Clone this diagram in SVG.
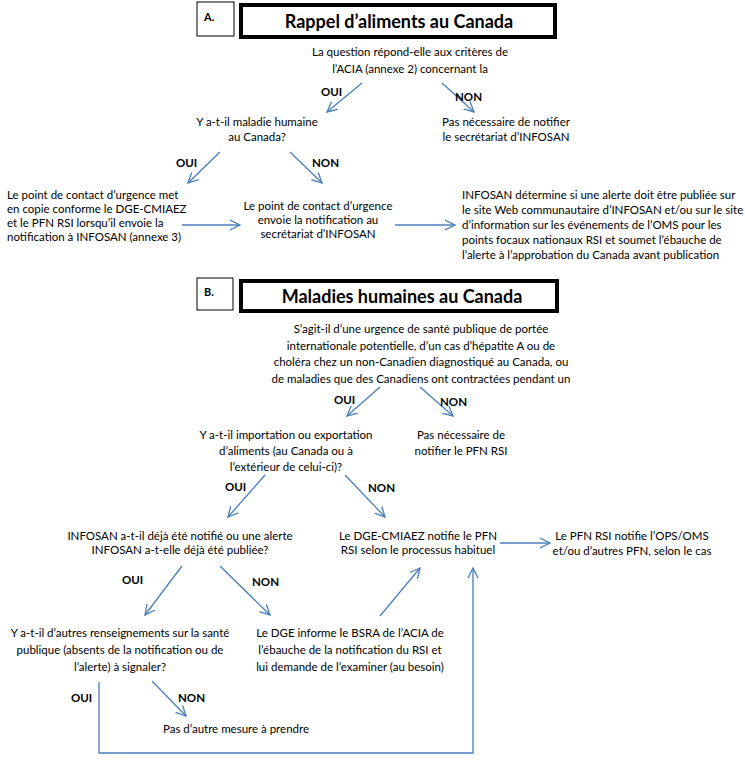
<svg xmlns="http://www.w3.org/2000/svg" width="745" height="760" viewBox="0 0 745 760">
<style>
text{font-family:Lato,"Liberation Sans",sans-serif;font-size:11.5px;fill:#000}
.c{text-anchor:middle}
.b{font-weight:bold}
.t{font-weight:bold;font-size:18px;text-anchor:middle}
.hb{fill:#fff;stroke:#000;stroke-width:1}
.tb{fill:#fff;stroke:#000;stroke-width:4}
.cn{fill:none;stroke:#4a7ebb;stroke-width:1.3}
</style>
<defs>
<marker id="arr" markerUnits="userSpaceOnUse" markerWidth="12" markerHeight="12" refX="10" refY="5" orient="auto" viewBox="0 0 12 10">
<path d="M0,0 L10,5 L0,10" fill="none" stroke="#4a7ebb" stroke-width="1.3"/>
</marker>
</defs>

<g id="headerA">
<rect class="hb" x="197" y="2" width="37" height="34"/>
<text x="204" y="21" style="font-size:11px" class="b">A.</text>
<rect class="tb" x="241" y="5" width="314" height="32"/>
<text class="t" x="399" y="28">Rappel d’aliments au Canada</text>
</g>

<g id="qA">
<text class="c" x="410" y="56">La question répond-elle aux critères de</text>
<text class="c" x="410" y="73">l’ACIA (annexe 2) concernant la</text>
</g>
<g id="maladie">
<text class="c" x="257" y="126">Y a-t-il maladie humaine</text>
<text class="c" x="257" y="141">au Canada?</text>
</g>
<g id="pasA">
<text class="c" x="506" y="126">Pas nécessaire de notifier</text>
<text class="c" x="506" y="141">le secrétariat d’INFOSAN</text>
</g>
<g id="copie">
<text x="7" y="199">Le point de contact d’urgence met</text>
<text x="7" y="213">en copie conforme le DGE-CMIAEZ</text>
<text x="7" y="227">et le PFN RSI lorsqu’il envoie la</text>
<text x="7" y="241">notification à INFOSAN (annexe 3)</text>
</g>
<g id="envoie">
<text class="c" x="318" y="210">Le point de contact d’urgence</text>
<text class="c" x="318" y="224">envoie la notification au</text>
<text class="c" x="318" y="238">secrétariat d’INFOSAN</text>
</g>
<g id="infosanA">
<text x="462" y="199">INFOSAN détermine si une alerte doit être publiée sur</text>
<text x="462" y="214">le site Web communautaire d’INFOSAN et/ou sur le site</text>
<text x="462" y="229">d’information sur les événements de l’OMS pour les</text>
<text x="462" y="244">points focaux nationaux RSI et soumet l’ébauche de</text>
<text x="462" y="259">l’alerte à l’approbation du Canada avant publication</text>
</g>

<g id="headerB">
<rect class="hb" x="197" y="278" width="36" height="32"/>
<text x="204" y="296" style="font-size:11px" class="b">B.</text>
<rect class="tb" x="241" y="281" width="316" height="30"/>
<text class="t" x="402" y="303">Maladies humaines au Canada</text>
</g>
<g id="qB">
<text class="c" x="421" y="333">S’agit-il d’une urgence de santé publique de portée</text>
<text class="c" x="421" y="350">internationale potentielle, d’un cas d’hépatite A ou de</text>
<text class="c" x="421" y="366">choléra chez un non-Canadien diagnostiqué au Canada, ou</text>
<text class="c" x="421" y="383">de maladies que des Canadiens ont contractées pendant un</text>
</g>
<g id="importation">
<text class="c" x="286" y="439">Y a-t-il importation ou exportation</text>
<text class="c" x="286" y="455">d’aliments (au Canada ou à</text>
<text class="c" x="286" y="471">l’extérieur de celui-ci)?</text>
</g>
<g id="pasB">
<text class="c" x="461" y="439">Pas nécessaire de</text>
<text class="c" x="461" y="455">notifier le PFN RSI</text>
</g>
<g id="dejaNotifie">
<text class="c" x="180" y="540">INFOSAN a-t-il déjà été notifié ou une alerte</text>
<text class="c" x="180" y="554">INFOSAN a-t-elle déjà été publiée?</text>
</g>
<g id="dgeNotifie">
<text class="c" x="418" y="540">Le DGE-CMIAEZ notifie le PFN</text>
<text class="c" x="418" y="554">RSI selon le processus habituel</text>
</g>
<g id="pfnNotifie">
<text class="c" x="632" y="540">Le PFN RSI notifie l’OPS/OMS</text>
<text class="c" x="632" y="555">et/ou d’autres PFN, selon le cas</text>
</g>
<g id="autres">
<text class="c" x="120" y="637">Y a-t-il d’autres renseignements sur la santé</text>
<text class="c" x="120" y="654">publique (absents de la notification ou de</text>
<text class="c" x="120" y="671">l’alerte) à signaler?</text>
</g>
<g id="dgeInforme">
<text class="c" x="350" y="637">Le DGE informe le BSRA de l’ACIA de</text>
<text class="c" x="350" y="654">l’ébauche de la notification du RSI et</text>
<text class="c" x="350" y="671">lui demande de l’examiner (au besoin)</text>
</g>
<g id="pasMesure">
<text class="c" x="236" y="733">Pas d’autre mesure à prendre</text>
</g>

<g id="connectors">
<line class="cn" x1="362" y1="83" x2="327" y2="112" marker-end="url(#arr)"/>
<line class="cn" x1="442" y1="83" x2="474" y2="112" marker-end="url(#arr)"/>
<line class="cn" x1="220" y1="152" x2="188" y2="183" marker-end="url(#arr)"/>
<line class="cn" x1="290" y1="152" x2="322" y2="183" marker-end="url(#arr)"/>
<line class="cn" x1="182" y1="225" x2="240" y2="225" marker-end="url(#arr)"/>
<line class="cn" x1="395" y1="225" x2="455" y2="225" marker-end="url(#arr)"/>
<line class="cn" x1="380" y1="387" x2="347" y2="416" marker-end="url(#arr)"/>
<line class="cn" x1="420" y1="387" x2="453" y2="416" marker-end="url(#arr)"/>
<line class="cn" x1="265" y1="475" x2="228" y2="517" marker-end="url(#arr)"/>
<line class="cn" x1="345" y1="475" x2="385" y2="517" marker-end="url(#arr)"/>
<line class="cn" x1="500" y1="543" x2="550" y2="543" marker-end="url(#arr)"/>
<line class="cn" x1="182" y1="566" x2="145" y2="615" marker-end="url(#arr)"/>
<line class="cn" x1="220" y1="566" x2="270" y2="615" marker-end="url(#arr)"/>
<line class="cn" x1="380" y1="616" x2="420" y2="568" marker-end="url(#arr)"/>
<line class="cn" x1="152" y1="681" x2="186" y2="716" marker-end="url(#arr)"/>
<polyline class="cn" points="99,682 99,753 473,753 473,568" marker-end="url(#arr)"/>
</g>

<g id="labels">
<text class="b" x="321" y="96">OUI</text>
<text class="b" x="455" y="101">NON</text>
<text class="b" x="176" y="167">OUI</text>
<text class="b" x="312" y="167">NON</text>
<text class="b" x="334" y="404">OUI</text>
<text class="b" x="440" y="406">NON</text>
<text class="b" x="225" y="491">OUI</text>
<text class="b" x="368" y="492">NON</text>
<text class="b" x="122" y="584">OUI</text>
<text class="b" x="252" y="586">NON</text>
<text class="b" x="71" y="702">OUI</text>
<text class="b" x="178" y="702">NON</text>
</g>
</svg>
